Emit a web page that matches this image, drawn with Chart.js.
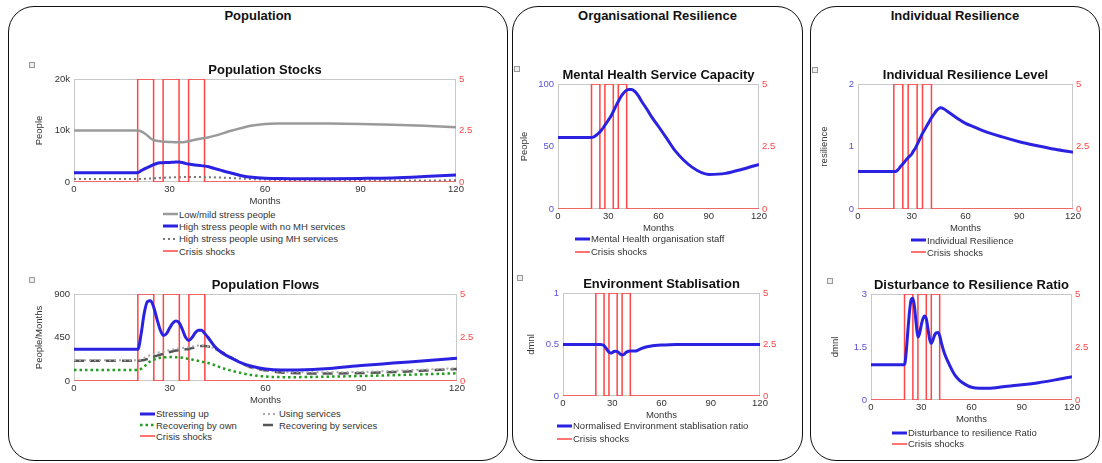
<!DOCTYPE html>
<html>
<head>
<meta charset="utf-8">
<script src="https://cdn.jsdelivr.net/npm/chart.js@4.4.0/dist/chart.umd.min.js"></script>
<style>
body { margin:0; width:1102px; height:463px; background:#fff; position:relative; overflow:hidden; font-family:'Liberation Sans', Arial, sans-serif; }
.panel { position:absolute; border:1.5px solid #111; border-radius:26px; box-sizing:border-box; }
.ptitle { position:absolute; width:100%; text-align:center; font-weight:bold; font-size:13px; color:#111; line-height:16px; top:1px; }
canvas { position:absolute; }
.icon { position:absolute; width:4px; height:4px; border:1px solid #999; background:#eee; }
.legend { position:absolute; font-size:9.5px; color:#333; }
.legend .row { display:flex; align-items:center; white-space:nowrap; }
.legend svg { display:block; margin-right:1px; }
</style>
</head>
<body>
<div class="panel" style="left:8px;top:6px;width:500px;height:455px;"><div class="ptitle">Population</div></div>
<div class="panel" style="left:512px;top:6px;width:291px;height:455px;"><div class="ptitle">Organisational Resilience</div></div>
<div class="panel" style="left:810px;top:6px;width:290px;height:455px;"><div class="ptitle">Individual Resilience</div></div>

<div class="icon" style="left:29px;top:62px;"></div>
<div class="icon" style="left:29px;top:277px;"></div>
<div class="icon" style="left:514px;top:66px;"></div>
<div class="icon" style="left:517px;top:275px;"></div>
<div class="icon" style="left:812px;top:67px;"></div>
<div class="icon" style="left:827px;top:278px;"></div>

<canvas id="stocks"></canvas>
<canvas id="flows"></canvas>
<canvas id="capacity"></canvas>
<canvas id="environment"></canvas>
<canvas id="resilience"></canvas>
<canvas id="ratio"></canvas>

<div class="legend" id="legStocks" style="left:163px;top:208px;"></div>
<div class="legend" id="legFlows" style="left:140px;top:408px;display:grid;grid-template-columns:123px auto;"></div>
<div class="legend" id="legCapacity" style="left:575px;top:232px;"></div>
<div class="legend" id="legEnvironment" style="left:557px;top:419px;"></div>
<div class="legend" id="legResilience" style="left:911px;top:234px;"></div>
<div class="legend" id="legRatio" style="left:892px;top:427px;"></div>

<script>
// temps de simulation (mois)
const months = [0, 20, 21, 22, 23, 24, 25, 26, 27, 28, 29, 30, 31, 32, 33, 34, 35, 36, 37, 38, 39, 40, 41, 42, 44, 46, 48, 50, 53, 56, 60, 65, 70, 80, 90, 100, 110, 120];

// chocs de crise (axe de droite)
const shockMonths = [0, 20, 25, 28, 33, 36, 41, 120];
const shockValues = [0, 5, 0, 5, 0, 5, 0, 0];

// Population Stocks
const lowMildStress = [10000, 10000, 9850, 9500, 9050, 8500, 8150, 8000, 7900, 7850, 7800, 7780, 7750, 7720, 7700, 7720, 7800, 7900, 8050, 8200, 8350, 8450, 8550, 8650, 8950, 9300, 9700, 10050, 10550, 10950, 11250, 11350, 11380, 11350, 11250, 11100, 10900, 10620];
const highNoServices = [1800, 1800, 2150, 2500, 2800, 3100, 3380, 3600, 3720, 3760, 3780, 3800, 3830, 3860, 3880, 3800, 3620, 3480, 3380, 3300, 3230, 3180, 3100, 3000, 2650, 2300, 1950, 1650, 1150, 900, 740, 660, 650, 650, 700, 800, 1050, 1360];
const highUsingServices = [600, 600, 600, 620, 650, 680, 720, 760, 800, 830, 860, 880, 900, 920, 940, 950, 960, 970, 970, 970, 960, 950, 940, 930, 900, 860, 810, 750, 660, 570, 470, 380, 330, 300, 300, 300, 310, 320];

// Population Flows
const stressingUp = [328, 328, 480, 700, 820, 830, 760, 640, 530, 470, 490, 550, 600, 620, 600, 530, 450, 420, 450, 500, 525, 525, 490, 450, 360, 300, 260, 225, 180, 150, 125, 114, 115, 130, 160, 185, 210, 235];
const usingServices = [215, 215, 225, 240, 255, 268, 280, 290, 298, 305, 312, 320, 327, 333, 338, 342, 346, 350, 356, 362, 366, 368, 366, 360, 335, 300, 262, 225, 172, 135, 112, 95, 90, 90, 95, 105, 118, 132];
const recoveringOwn = [114, 114, 125, 150, 180, 205, 220, 232, 240, 244, 246, 247, 247, 246, 244, 240, 235, 228, 222, 215, 208, 200, 193, 187, 165, 140, 118, 100, 78, 60, 46, 40, 40, 45, 52, 60, 70, 80];
const recoveringServices = [210, 210, 212, 218, 228, 240, 252, 262, 272, 282, 292, 300, 308, 315, 320, 325, 328, 332, 340, 348, 356, 362, 362, 358, 335, 305, 270, 230, 175, 135, 110, 88, 80, 78, 82, 92, 108, 125];

// Organisational / Individual Resilience
const mhStaff = [57.3, 57.3, 57.5, 58.2, 59.2, 60.4, 61.7, 63.2, 65, 67, 69, 71, 73, 75.2, 78, 80.8, 83.5, 86, 88.5, 90.8, 92.5, 94, 95, 95.7, 95.6, 93.9, 90.5, 86, 80, 73.5, 66, 56.3, 46.5, 33.5, 27.7, 28.5, 31.8, 35.7];
const envStabilisation = [0.5, 0.5, 0.5, 0.5, 0.5, 0.497, 0.49, 0.47, 0.445, 0.425, 0.418, 0.422, 0.432, 0.435, 0.43, 0.42, 0.405, 0.398, 0.402, 0.418, 0.428, 0.435, 0.437, 0.436, 0.436, 0.448, 0.462, 0.473, 0.483, 0.49, 0.495, 0.498, 0.499, 0.5, 0.5, 0.5, 0.5, 0.5];
const individualResilience = [0.6, 0.6, 0.6, 0.62, 0.65, 0.69, 0.72, 0.755, 0.79, 0.82, 0.85, 0.88, 0.93, 0.97, 1.03, 1.09, 1.15, 1.21, 1.26, 1.31, 1.36, 1.41, 1.46, 1.5, 1.58, 1.62, 1.6, 1.56, 1.5, 1.44, 1.37, 1.31, 1.25, 1.157, 1.077, 1.013, 0.955, 0.907];
const disturbanceRatio = [1.0, 1.0, 1.35, 1.95, 2.5, 2.84, 2.88, 2.62, 2.15, 1.78, 1.88, 2.12, 2.3, 2.38, 2.3, 2.02, 1.72, 1.6, 1.7, 1.84, 1.9, 1.91, 1.82, 1.62, 1.3, 1.08, 0.88, 0.71, 0.55, 0.45, 0.36, 0.33, 0.33, 0.38, 0.43, 0.49, 0.57, 0.66];

// ticks
const monthTicks = [0, 30, 60, 90, 120];
const shockTicks = [0, 2.5, 5];
const stocksTicks = [0, 10000, 20000];
const flowsTicks = [0, 450, 900];
const capacityTicks = [0, 50, 100];
const envTicks = [0, 0.5, 1];
const resilienceTicks = [0, 1, 2];
const ratioTicks = [0, 1.5, 3];

const BLUE = '#2a22e0';
const RED = '#ff4545';

function pts(xs, ys) {
    return xs.map((x, i) => ({ x: x, y: ys[i] }));
}

function line(label, values, color, width, dash) {
    return {
        label: label,
        data: pts(months, values),
        yAxisID: 'y',
        borderColor: color,
        borderWidth: width,
        borderDash: dash || [],
        cubicInterpolationMode: 'monotone',
        pointRadius: 0
    };
}

function shocks() {
    return {
        label: 'Crisis shocks',
        data: pts(shockMonths, shockValues),
        yAxisID: 'y2',
        borderColor: RED,
        borderWidth: 1.5,
        stepped: true,
        pointRadius: 0
    };
}

const frame = {
    id: 'frame',
    beforeDatasetsDraw(chart) {
        const a = chart.chartArea;
        const ctx = chart.ctx;
        ctx.save();
        ctx.strokeStyle = '#c8c8c8';
        ctx.lineWidth = 1;
        ctx.strokeRect(a.left + 0.5, a.top + 0.5, a.right - a.left - 1, a.bottom - a.top - 1);
        ctx.restore();
    }
};

const tickFont = { family: "'Liberation Sans', Arial, sans-serif", size: 9.5, lineHeight: '12px' };
const noGrid = { display: false, drawTicks: false, tickLength: 0 };

function fmt(v) {
    if (Math.abs(v) >= 1000) return (v / 1000) + 'k';
    return String(v);
}

function makeChart(id, box, title, yTitle, leftTicks, leftColor, datasets) {
    const Rw = 30, T = 17, Xh = 25;
    const cv = document.getElementById(id);
    cv.width = box.lw + box.w + Rw;
    cv.height = T + box.h + Xh;
    cv.style.left = (box.x - box.lw) + 'px';
    cv.style.top = (box.y - T) + 'px';

    return new Chart(cv.getContext('2d'), {
        type: 'line',
        data: { datasets: datasets },
        plugins: [frame],
        options: {
            responsive: false,
            animation: false,
            devicePixelRatio: 1,
            layout: { padding: 0 },
            plugins: {
                legend: { display: false },
                tooltip: { enabled: false },
                title: {
                    display: true,
                    text: title,
                    fullSize: false,
                    color: '#111',
                    font: { family: "'Liberation Sans', Arial, sans-serif", size: 13, weight: 'bold', lineHeight: '16px' },
                    padding: { top: 0, bottom: 1 }
                }
            },
            scales: {
                x: {
                    type: 'linear',
                    min: 0, max: 120,
                    grid: noGrid,
                    border: { display: false },
                    afterBuildTicks: s => { s.ticks = monthTicks.map(v => ({ value: v })); },
                    afterFit: s => { s.height = Xh; },
                    ticks: { color: '#333', font: tickFont, padding: 1, maxRotation: 0 },
                    title: { display: true, text: 'Months', color: '#333', font: tickFont, padding: 0 }
                },
                y: {
                    position: 'left',
                    min: leftTicks[0], max: leftTicks[leftTicks.length - 1],
                    grid: noGrid,
                    border: { display: false },
                    afterBuildTicks: s => { s.ticks = leftTicks.map(v => ({ value: v })); },
                    afterFit: s => { s.width = box.lw; },
                    ticks: { color: leftColor, font: tickFont, padding: 4, callback: fmt },
                    title: { display: true, text: yTitle, color: '#333', font: tickFont, padding: 0 }
                },
                y2: {
                    position: 'right',
                    min: 0, max: 5,
                    grid: noGrid,
                    border: { display: false },
                    afterBuildTicks: s => { s.ticks = shockTicks.map(v => ({ value: v })); },
                    afterFit: s => { s.width = Rw; },
                    ticks: { color: RED, font: tickFont, padding: 3 }
                }
            }
        }
    });
}

function legend(elId, datasets, rowHeight) {
    const el = document.getElementById(elId);
    datasets.forEach(ds => {
        const row = document.createElement('div');
        row.className = 'row';
        row.style.height = rowHeight;
        const dash = (ds.borderDash || []).join(' ');
        row.innerHTML = '<svg width="15" height="6"><line x1="0" y1="3" x2="15" y2="3" stroke="' + ds.borderColor +
            '" stroke-width="' + ds.borderWidth + '" stroke-dasharray="' + dash + '"/></svg><span>' + ds.label + '</span>';
        el.appendChild(row);
    });
}

const stocksSets = [
    line('Low/mild stress people', lowMildStress, '#9a9a9a', 2.5),
    line('High stress people with no MH services', highNoServices, BLUE, 3),
    line('High stress people using MH services', highUsingServices, '#777', 2, [2, 3]),
    shocks()
];
const flowsSets = [
    line('Stressing up', stressingUp, BLUE, 3),
    line('Using services', usingServices, '#aaa', 2, [2, 3]),
    line('Recovering by own', recoveringOwn, '#1f9e1f', 2.5, [2.5, 3]),
    line('Recovering by services', recoveringServices, '#555', 2.5, [10, 6]),
    shocks()
];
const capacitySets = [line('Mental Health organisation staff', mhStaff, BLUE, 3), shocks()];
const envSets = [line('Normalised Environment stablisation ratio', envStabilisation, BLUE, 3), shocks()];
const resilienceSets = [line('Individual Resilience', individualResilience, BLUE, 3), shocks()];
const ratioSets = [line('Disturbance to resilience Ratio', disturbanceRatio, BLUE, 3), shocks()];

const VIOLET = '#5a50d8';
makeChart('stocks', { x: 74, y: 79, w: 382, h: 103, lw: 41 }, 'Population Stocks', 'People', stocksTicks, '#333', stocksSets);
makeChart('flows', { x: 74, y: 294, w: 383, h: 87, lw: 41 }, 'Population Flows', 'People/Months', flowsTicks, '#333', flowsSets);
makeChart('capacity', { x: 558, y: 84, w: 201, h: 125, lw: 40 }, 'Mental Health Service Capacity', 'People', capacityTicks, VIOLET, capacitySets);
makeChart('environment', { x: 563, y: 293, w: 197, h: 103, lw: 38 }, 'Environment Stablisation', 'dmnl', envTicks, VIOLET, envSets);
makeChart('resilience', { x: 858, y: 84, w: 215, h: 125, lw: 40 }, 'Individual Resilience Level', 'resilience', resilienceTicks, VIOLET, resilienceSets);
makeChart('ratio', { x: 871, y: 294, w: 201, h: 106, lw: 42 }, 'Disturbance to Resilience Ratio', 'dmnl', ratioTicks, VIOLET, ratioSets);

legend('legStocks', stocksSets, '12.3px');
legend('legFlows', flowsSets, '11.4px');
legend('legCapacity', capacitySets, '13px');
legend('legEnvironment', envSets, '13px');
legend('legResilience', resilienceSets, '12px');
legend('legRatio', ratioSets, '11px');
</script>
</body>
</html>
